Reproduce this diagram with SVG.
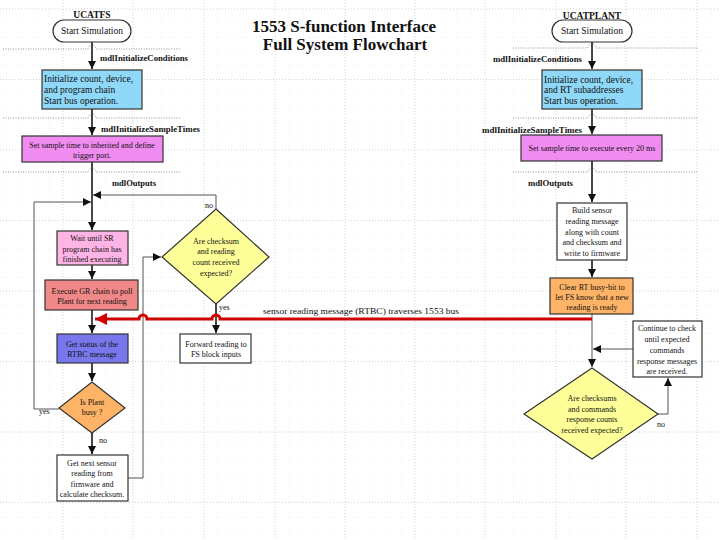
<svg xmlns="http://www.w3.org/2000/svg" width="720" height="540" viewBox="0 0 720 540">
<defs>
<style>
.grid{stroke:#c8c8c8;stroke-width:0.8;stroke-dasharray:1 2;fill:none}
.minor{stroke:#ececec;stroke-width:0.7;stroke-dasharray:1 3;fill:none}
.sep{stroke:#777;stroke-width:0.8;stroke-dasharray:1 1.5;fill:none}
.flow{stroke:#333;stroke-width:1.8;fill:none}
.loop{stroke:#555;stroke-width:1;fill:none}
.box{stroke:#333;stroke-width:1.2}
.t{font-family:"Liberation Serif","Times New Roman",serif;font-size:8px;fill:#111}
.tb{font-size:9.5px}
.tc{text-anchor:middle}
.lbl{font-family:"Liberation Serif","Times New Roman",serif;font-size:8px;font-weight:bold;fill:#111}
.hd{font-family:"Liberation Serif","Times New Roman",serif;font-size:9.5px;font-weight:bold;fill:#111;text-anchor:middle}
.title{font-family:"Liberation Serif","Times New Roman",serif;font-size:17px;font-weight:bold;fill:#111;text-anchor:middle}
</style>
<marker id="ah" viewBox="0 0 10 10" refX="10" refY="5" markerWidth="8" markerHeight="8" markerUnits="userSpaceOnUse" orient="auto"><path d="M0,0 L10,5 L0,10 z" fill="#111"/></marker>
<marker id="ahr" viewBox="0 0 10 10" refX="10" refY="5" markerWidth="12" markerHeight="12" markerUnits="userSpaceOnUse" orient="auto"><path d="M0,0 L10,5 L0,10 z" fill="#d00000"/></marker>
</defs>
<rect width="720" height="540" fill="#fff"/>
<g id="grid">
<path class="minor" d="M7,0V540M21,0V540M35,0V540M49,0V540M77,0V540M91,0V540M105,0V540M119,0V540M147,0V540M161,0V540M175,0V540M190,0V540M218,0V540M232,0V540M246,0V540M260,0V540M289,0V540M303,0V540M317,0V540M331,0V540M359,0V540M373,0V540M387,0V540M401,0V540M429,0V540M443,0V540M457,0V540M471,0V540M499,0V540M513,0V540M527,0V540M542,0V540M570,0V540M584,0V540M598,0V540M612,0V540M640,0V540M654,0V540M668,0V540M683,0V540M711,0V540"/>
<path class="minor" d="M0,23H720M0,37H720M0,51H720M0,65H720M0,94H720M0,108H720M0,122H720M0,136H720M0,164H720M0,178H720M0,192H720M0,206H720M0,235H720M0,249H720M0,263H720M0,277H720M0,305H720M0,319H720M0,333H720M0,347H720M0,376H720M0,390H720M0,404H720M0,418H720M0,446H720M0,460H720M0,474H720M0,488H720M0,517H720M0,531H720"/>
<path class="grid" d="M63,0V540M133,0V540M204,0V540M275,0V540M345,0V540M415,0V540M485,0V540M556,0V540M626,0V540M697,0V540M0,9H720M0,79.5H720M0,150H720M0,220.5H720M0,291H720M0,361.5H720M0,432H720M0,502.5H720"/>
</g>
<g id="separators">
<path class="sep" d="M3,49H88A4,4 0 0 1 96,49H180"/>
<path class="sep" d="M3,118H88A4,4 0 0 1 96,118H180"/>
<path class="sep" d="M3,172H88A4,4 0 0 1 96,172H180"/>
<path class="sep" d="M513,48H588A4,4 0 0 1 596,48H697"/>
<path class="sep" d="M513,118H588A4,4 0 0 1 596,118H697"/>
<path class="sep" d="M513,172H588A4,4 0 0 1 596,172H697"/>
</g>
<g id="title">
<text class="title" x="344" y="32">1553 S-function Interface</text>
<text class="title" x="345" y="50">Full System Flowchart</text>
</g>
<g id="labels">
<text class="lbl" x="100" y="61" textLength="88" lengthAdjust="spacingAndGlyphs">mdlInitializeConditions</text>
<text class="lbl" x="101" y="132" textLength="99" lengthAdjust="spacingAndGlyphs">mdlInitializeSampleTimes</text>
<text class="lbl" x="112" y="186" textLength="44" lengthAdjust="spacingAndGlyphs">mdlOutputs</text>
<text class="lbl" x="493" y="62" textLength="89" lengthAdjust="spacingAndGlyphs">mdlInitializeConditions</text>
<text class="lbl" x="482" y="133" textLength="100" lengthAdjust="spacingAndGlyphs">mdlInitializeSampleTimes</text>
<text class="lbl" x="528" y="186" textLength="45" lengthAdjust="spacingAndGlyphs">mdlOutputs</text>
<text class="t" x="263" y="314" font-size="9.5" textLength="196" lengthAdjust="spacingAndGlyphs">sensor reading message (RTBC) traverses 1553 bus</text>
<text class="t" x="205" y="208">no</text>
<text class="t" x="219" y="310">yes</text>
<text class="t" x="39" y="414">yes</text>
<text class="t" x="99" y="443">no</text>
<text class="t" x="657" y="427">no</text>
</g>
<g id="connectors">
<path class="flow" d="M92,42V69" marker-end="url(#ah)"/>
<path class="flow" d="M92,109V135" marker-end="url(#ah)"/>
<path class="flow" d="M92,162V230" marker-end="url(#ah)"/>
<path class="flow" d="M92,265V279" marker-end="url(#ah)"/>
<path class="flow" d="M92,310V333" marker-end="url(#ah)"/>
<path class="flow" d="M92,363V381" marker-end="url(#ah)"/>
<path class="flow" d="M92,433V454" marker-end="url(#ah)"/>
<path class="loop" d="M216,209V195H93" marker-end="url(#ah)"/>
<path class="loop" d="M59,409H34V202H91" marker-end="url(#ah)"/>
<path class="loop" d="M128,478H143V257H161" marker-end="url(#ah)"/>
<path class="flow" d="M216,304V333" marker-end="url(#ah)"/>
<path class="flow" d="M592,42V69" marker-end="url(#ah)"/>
<path class="flow" d="M592,109V134" marker-end="url(#ah)"/>
<path class="flow" d="M592,161V202" marker-end="url(#ah)"/>
<path class="flow" d="M592,260V277" marker-end="url(#ah)"/>
<path class="loop" d="M592,314V367" marker-end="url(#ah)" stroke-width="1.3"/>
<path class="loop" d="M633,349H593" marker-end="url(#ah)"/>
<path class="loop" d="M658,414H668V378" marker-end="url(#ah)"/>
<path d="M592,319H220A4,4 0 0 0 212,319H147A4,4 0 0 0 139,319H95" fill="none" stroke="#d00000" stroke-width="3" marker-end="url(#ahr)"/>
</g>
<g id="fs-head"><text class="hd" x="92" y="18">UCATFS</text></g>
<g id="fs-start"><rect class="box" x="53" y="20" width="78" height="22" rx="11" fill="#fff"/><text class="t tb tc" x="92" y="34">Start Simulation</text></g>
<g id="fs-init"><rect class="box" x="42" y="70" width="100" height="39" fill="#8fd8f8"/><text class="t tb" x="44" y="82">Initialize count, device,</text><text class="t tb" x="44" y="93">and program chain</text><text class="t tb" x="44" y="104">Start bus operation.</text></g>
<g id="fs-sample"><rect class="box" x="22" y="136" width="141" height="26" fill="#f08cf0"/><text class="t tc" x="92" y="148">Set sample time to inherited and define</text><text class="t tc" x="92" y="158">trigger port.</text></g>
<g id="fs-wait"><rect class="box" x="57" y="231" width="71" height="34" fill="#ffb4e6"/><text class="t tc" x="92" y="241">Wait until SR</text><text class="t tc" x="92" y="252">program chain has</text><text class="t tc" x="92" y="262">finished executing</text></g>
<g id="fs-exec"><rect class="box" x="45" y="280" width="93" height="30" fill="#f08888"/><text class="t tc" x="92" y="294">Execute GR chain to poll</text><text class="t tc" x="92" y="304">Plant for next reading</text></g>
<g id="fs-status"><rect class="box" x="57" y="334" width="71" height="29" fill="#7878ec"/><text class="t tc" x="92" y="347" fill="#101040">Get status of the</text><text class="t tc" x="92" y="357" fill="#101040">RTBC message</text></g>
<g id="fs-busy"><polygon class="box" points="92,382 125,408 92,433 59,408" fill="#ffb366"/><text class="t tc" x="92" y="405">Is Plant</text><text class="t tc" x="92" y="415">busy ?</text></g>
<g id="fs-next"><rect class="box" x="57" y="455" width="71" height="46" fill="#fff"/><text class="t tc" x="92" y="466">Get next sensor</text><text class="t tc" x="92" y="476">reading from</text><text class="t tc" x="92" y="487">firmware and</text><text class="t tc" x="92" y="497">calculate checksum.</text></g>
<g id="fs-check"><polygon class="box" points="216,209 269,257 216,304 162,257" fill="#ffff99"/><text class="t tc" x="216" y="244">Are checksum</text><text class="t tc" x="216" y="254">and reading</text><text class="t tc" x="216" y="265">count received</text><text class="t tc" x="216" y="276">expected?</text></g>
<g id="fs-forward"><rect class="box" x="180" y="334" width="71" height="29" fill="#fff"/><text class="t tc" x="216" y="347">Forward reading to</text><text class="t tc" x="216" y="357">FS block inputs</text></g>
<g id="pl-head"><text class="hd" x="592" y="19">UCATPLANT</text></g>
<g id="pl-start"><rect class="box" x="552" y="20" width="80" height="22" rx="11" fill="#fff"/><text class="t tb tc" x="592" y="34">Start Simulation</text></g>
<g id="pl-init"><rect class="box" x="542" y="70" width="100" height="39" fill="#8fd8f8"/><text class="t tb" x="544" y="83">Initialize count, device,</text><text class="t tb" x="544" y="93">and RT subaddresses</text><text class="t tb" x="544" y="104">Start bus operation.</text></g>
<g id="pl-sample"><rect class="box" x="521" y="135" width="141" height="26" fill="#f08cf0"/><text class="t tc" x="592" y="151">Set sample time to execute every 20 ms</text></g>
<g id="pl-build"><rect class="box" x="557" y="203" width="70" height="57" fill="#fff"/><text class="t tc" x="592" y="213">Build sensor</text><text class="t tc" x="592" y="224">reading message</text><text class="t tc" x="592" y="235">along with count</text><text class="t tc" x="592" y="245">and checksum and</text><text class="t tc" x="592" y="256">write to firmware</text></g>
<g id="pl-clear"><rect class="box" x="550" y="278" width="83" height="36" fill="#ffb366"/><text class="t tc" x="592" y="290">Clear RT busy-bit to</text><text class="t tc" x="592" y="300">let FS know that a new</text><text class="t tc" x="592" y="310">reading is ready</text></g>
<g id="pl-continue"><rect class="box" x="633" y="321" width="69" height="56" fill="#fff"/><text class="t tc" x="667" y="331">Continue to check</text><text class="t tc" x="667" y="342">until expected</text><text class="t tc" x="667" y="353">commands</text><text class="t tc" x="667" y="364">response messages</text><text class="t tc" x="667" y="374">are received.</text></g>
<g id="pl-check"><polygon class="box" points="592,368 658,414 592,459 524,414" fill="#ffff99"/><text class="t tc" x="592" y="401">Are checksums</text><text class="t tc" x="592" y="412">and commands</text><text class="t tc" x="592" y="422">response counts</text><text class="t tc" x="592" y="433">received expected?</text></g>
</svg>
